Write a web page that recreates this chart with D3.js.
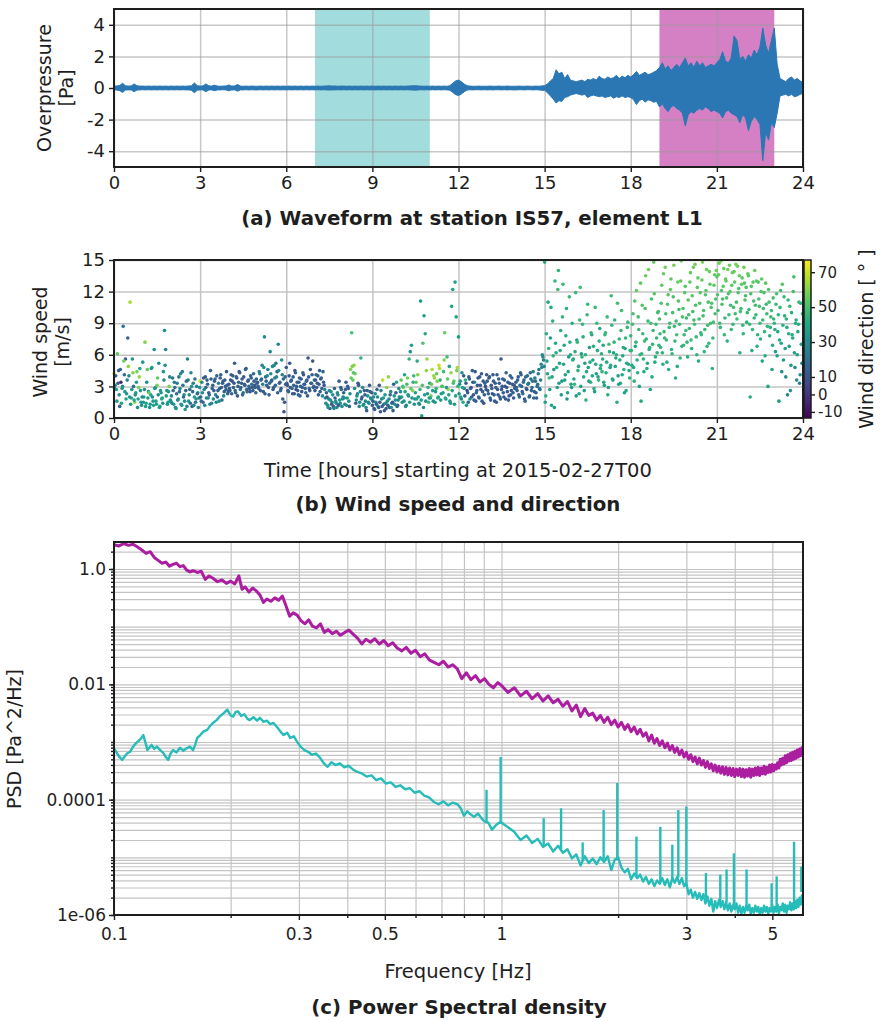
<!DOCTYPE html>
<html>
<head>
<meta charset="utf-8">
<script src="https://cdn.jsdelivr.net/npm/d3@7"></script>
<style>
  body { margin: 0; background: #fff; }
  svg text { font-family: "DejaVu Sans", sans-serif; fill: #1e1e1e; }
</style>
</head>
<body>
<div id="chart"></div>
<script>
// ---------- datos ----------
const hourTicks = [0, 3, 6, 9, 12, 15, 18, 21, 24];
const pressureTicks = [-4, -2, 0, 2, 4];
const speedTicks = [0, 3, 6, 9, 12, 15];
const dirTicks = [-10, 0, 10, 30, 50, 70];
const freqTicks = [0.1, 0.3, 0.5, 1, 3, 5];
const freqTickLabels = ["0.1", "0.3", "0.5", "1", "3", "5"];
const freqMinor = [0.2, 0.4, 0.6, 0.7, 0.8, 0.9, 2, 4];
const psdTicks = [1, 1e-2, 1e-4, 1e-6];
const psdTickLabels = ["1.0", "0.01", "0.0001", "1e-06"];

const quietWindow = [7, 11];   // ventana sin evento (cian)
const eventWindow = [19, 23];  // ventana del evento (magenta)

// envolvente de la forma de onda, una fila por hora, muestras cada 0.1 h
const waveStep = 0.1;
const waveHi = [
  [.12,.13,.16,.30,.14,.12,.13,.26,.14,.12],
  [.12,.11,.12,.11,.12,.11,.12,.11,.12,.11],
  [.12,.11,.12,.11,.12,.11,.13,.14,.32,.15],
  [.12,.13,.26,.14,.12,.18,.12,.11,.12,.13],
  [.19,.12,.13,.22,.12,.11,.12,.11,.12,.11],
  [.11,.12,.11,.12,.11,.12,.11,.12,.11,.12],
  [.11,.12,.11,.12,.11,.12,.11,.12,.11,.12],
  [.11,.12,.11,.12,.13,.14,.12,.13,.11,.12],
  [.12,.11,.12,.11,.12,.11,.12,.11,.12,.11],
  [.12,.11,.12,.11,.12,.11,.12,.11,.12,.11],
  [.12,.11,.12,.13,.14,.15,.13,.12,.11,.12],
  [.11,.12,.11,.12,.11,.12,.11,.15,.30,.45],
  [.50,.40,.25,.14,.12,.11,.11,.12,.11,.11],
  [.11,.12,.11,.11,.12,.11,.11,.12,.11,.11],
  [.11,.12,.11,.11,.12,.11,.11,.12,.11,.13],
  [.15,.25,.45,.60,1.15,.90,1.0,.60,.85,.50],
  [.45,.40,.45,.50,.40,.55,.50,.60,.50,.75],
  [.60,.55,.70,.60,.65,.80,.60,.75,.65,.80],
  [.70,.85,1.05,.80,.90,1.0,.85,.90,1.0,1.1],
  [1.3,1.6,1.2,1.4,1.1,1.3,1.5,1.3,1.6,1.9],
  [1.4,1.6,1.3,1.7,1.4,1.6,1.3,1.4,1.5,1.4],
  [1.6,1.8,2.3,1.7,1.6,1.9,3.3,3.0,1.8,2.0],
  [1.7,2.1,1.9,2.4,2.1,2.6,3.8,2.7,2.2,3.0],
  [3.8,1.5,.60,.50,.40,.60,.70,.50,.60,.45],
  [.35]
];
const waveLo = [
  [-.12,-.13,-.17,-.28,-.13,-.12,-.12,-.24,-.13,-.12],
  [-.11,-.12,-.11,-.12,-.11,-.12,-.11,-.12,-.11,-.12],
  [-.11,-.12,-.11,-.12,-.11,-.12,-.12,-.15,-.30,-.14],
  [-.12,-.12,-.24,-.13,-.12,-.17,-.12,-.12,-.11,-.12],
  [-.18,-.12,-.12,-.20,-.12,-.12,-.11,-.12,-.11,-.12],
  [-.12,-.11,-.12,-.11,-.12,-.11,-.12,-.11,-.12,-.11],
  [-.12,-.11,-.12,-.11,-.12,-.11,-.12,-.11,-.12,-.11],
  [-.12,-.11,-.12,-.11,-.12,-.13,-.12,-.12,-.11,-.12],
  [-.11,-.12,-.11,-.12,-.11,-.12,-.11,-.12,-.11,-.12],
  [-.11,-.12,-.11,-.12,-.11,-.12,-.11,-.12,-.11,-.12],
  [-.11,-.12,-.11,-.12,-.13,-.14,-.12,-.11,-.12,-.11],
  [-.12,-.11,-.12,-.11,-.12,-.11,-.12,-.14,-.28,-.42],
  [-.48,-.38,-.24,-.13,-.11,-.12,-.11,-.11,-.12,-.11],
  [-.12,-.11,-.12,-.11,-.11,-.12,-.11,-.12,-.11,-.12],
  [-.12,-.11,-.11,-.12,-.11,-.11,-.12,-.11,-.12,-.14],
  [-.15,-.30,-.50,-.70,-.95,-.80,-.85,-.60,-.55,-.45],
  [-.40,-.35,-.40,-.45,-.40,-.60,-.50,-.45,-.50,-.55],
  [-.50,-.60,-.55,-.50,-.65,-.55,-.60,-.50,-.60,-.55],
  [-.60,-.75,-1.05,-.80,-.70,-.90,-.75,-.80,-.90,-.85],
  [-1.2,-1.0,-1.3,-1.5,-1.2,-1.1,-1.3,-1.4,-1.6,-2.4],
  [-1.7,-1.5,-1.6,-1.4,-1.3,-1.4,-1.2,-1.3,-1.5,-1.4],
  [-1.5,-1.6,-1.9,-1.5,-1.4,-1.6,-1.7,-1.8,-2.2,-1.7],
  [-1.9,-2.7,-2.1,-1.8,-2.0,-2.3,-4.6,-2.8,-3.3,-2.2],
  [-2.5,-1.6,-.50,-.45,-.40,-.50,-.40,-.55,-.50,-.40],
  [-.35]
];

// viento: dos series de 25 lecturas por hora (velocidad m/s, dirección en grados)
const windPerHour = 25;
const windSpeedA = [
  [4.2,3.1,2.7,6.1,4.5,1.1,3.4,2.8,8.7,4.1,5.6,2.3,7.6,4.0,11.0,1.9,5.6,3.0,1.5,2.4,4.4,1.8,3.9,2.6,1.2],
  [5.3,2.0,7.2,1.4,4.6,2.5,1.0,2.2,4.8,1.6,6.5,2.9,1.3,3.8,5.2,1.1,2.4,1.9,4.4,8.3,6.5,2.6,1.5,3.0,1.7],
  [2.1,3.8,1.3,2.9,0.9,3.3,1.8,2.5,4.2,1.2,3.1,2.2,0.8,3.5,5.6,1.6,2.7,4.3,1.1,3.3,2.0,1.5,3.0,2.4,1.9],
  [3.5,1.6,2.4,3.8,1.2,2.9,3.6,1.9,2.2,4.5,1.4,3.1,2.6,3.7,1.5,2.0,3.3,2.8,4.1,1.7,3.5,2.5,3.0,4.4,2.3],
  [3.2,2.6,4.1,3.5,2.9,5.2,2.4,3.8,3.0,4.4,2.7,3.3,2.2,3.9,3.1,4.7,2.5,3.6,2.8,4.0,3.2,2.6,3.5,2.9,3.7],
  [3.4,2.8,4.2,3.6,5.0,2.5,7.7,3.9,3.1,4.6,2.2,6.3,3.5,4.9,2.9,3.8,5.2,4.4,7.0,3.3,2.6,5.5,1.8,0.6,3.9],
  [4.8,3.1,2.5,5.2,3.5,2.8,3.9,2.3,4.3,3.0,2.6,3.4,2.1,3.7,2.9,4.1,3.2,2.4,3.6,5.7,2.8,4.6,3.3,5.4,3.0],
  [2.6,4.1,3.3,2.2,4.5,3.7,2.8,4.4,3.1,1.9,2.4,1.2,1.8,0.9,2.5,1.5,1.1,2.8,1.6,1.0,2.2,3.5,1.4,2.7,1.8],
  [2.4,1.3,3.4,1.9,2.8,1.1,4.6,8.1,3.6,5.0,4.2,1.7,2.3,3.1,1.5,5.7,2.0,1.2,2.6,1.6,0.7,2.1,1.4,2.5,1.8],
  [1.2,2.0,0.8,1.5,2.7,1.1,3.1,0.6,1.8,3.6,1.3,2.2,0.9,1.6,3.9,1.0,2.5,1.4,0.7,2.1,1.7,3.4,1.2,2.8,1.9],
  [3.6,1.5,2.9,4.1,1.1,3.2,2.2,5.6,6.3,6.9,2.6,4.0,1.8,3.4,5.4,2.0,1.3,11.1,0.2,7.1,9.7,8.0,4.5,2.3,1.5],
  [3.3,2.1,4.6,1.6,3.8,2.5,4.2,1.9,5.0,3.6,2.3,3.0,4.4,8.1,1.8,5.8,2.7,4.9,1.4,10.6,12.2,3.5,12.9,9.6,4.8],
  [7.7,3.2,2.0,4.3,1.5,2.8,3.6,1.2,2.4,3.9,1.8,2.9,4.5,2.2,3.4,1.6,2.6,3.8,1.9,3.1,4.2,2.5,1.4,3.3,2.7],
  [3.5,2.3,3.9,1.7,2.8,4.1,2.2,3.3,1.5,2.7,3.7,2.0,5.6,3.0,2.4,3.6,1.8,2.9,3.4,2.1,4.0,2.6,3.2,1.9,2.8],
  [3.4,2.6,3.9,2.0,4.3,3.0,2.3,3.6,1.6,2.8,4.0,3.3,2.1,3.7,2.9,4.4,2.5,3.5,1.9,3.2,4.6,2.7,5.1,6.0,5.5],
  [14.8,2.1,5.4,11.0,3.8,7.6,1.2,9.2,4.6,13.0,6.2,2.9,14.0,5.2,8.3,3.5,12.7,6.9,4.1,10.4,2.4,5.8,7.2,3.2,9.0],
  [5.6,3.2,11.9,7.4,4.5,2.3,12.4,6.1,8.9,3.9,5.2,1.7,9.8,4.8,6.7,3.4,7.9,5.5,2.8,10.5,4.2,6.4,3.6,8.5,5.0],
  [4.4,6.9,3.1,8.1,5.3,2.2,7.0,4.8,11.6,3.7,6.2,9.3,5.7,1.5,4.0,7.5,3.3,10.2,5.9,4.6,6.6,2.6,8.6,5.1,3.8],
  [7.8,5.0,9.9,3.5,6.8,12.1,4.3,8.4,6.0,1.6,10.7,5.6,7.3,13.5,4.7,9.2,6.5,2.7,11.3,7.0,14.8,5.3,8.9,6.2,10.1],
  [9.4,6.7,12.6,5.1,8.2,14.3,7.4,10.8,4.6,9.0,13.2,6.1,11.5,8.7,3.8,7.9,12.9,10.3,5.7,14.9,9.6,6.9,11.9,8.3,7.2],
  [11.2,8.5,13.8,6.6,10.1,9.3,14.6,7.7,12.4,5.4,10.9,8.1,13.1,9.7,6.3,11.7,14.1,8.8,7.1,12.7,10.5,4.7,9.1,13.6,11.3],
  [13.4,10.2,14.7,8.6,12.1,11.3,14.2,9.5,13.0,7.3,11.8,14.5,10.7,12.6,8.9,13.9,9.9,11.0,14.4,12.3,6.2,10.4,13.3,8.0,12.8],
  [11.6,9.1,13.7,10.3,2.0,12.5,8.4,11.1,14.0,9.8,6.8,12.9,10.6,7.5,13.2,9.3,11.9,5.9,10.8,8.7,12.2,7.8,9.6,4.6,11.4],
  [9.0,6.3,11.8,8.2,1.6,10.5,7.1,12.7,5.5,9.7,3.9,8.6,11.2,6.8,2.6,10.0,7.6,13.4,4.8,9.3,6.0,8.9,3.3,10.9,5.2]
];
const windDirA = [
  [68,30,35,55,12,15,-5,35,22,18,12,35,15,30,65,38,32,20,60,35,58,40,62,35,32],
  [35,38,60,40,55,35,33,38,40,36,30,35,38,55,32,40,34,37,35,30,28,33,38,58,36],
  [30,22,35,18,33,25,38,20,28,35,22,30,36,20,25,34,18,30,15,26,35,20,28,32,22],
  [70,18,30,14,28,16,12,30,14,15,28,13,12,16,30,14,26,12,15,18,12,14,16,13,15],
  [12,15,13,11,14,12,13,16,14,12,25,13,15,12,14,11,16,13,12,15,18,14,12,13,16],
  [15,14,25,13,28,12,30,18,14,26,12,28,15,30,13,27,22,12,28,14,16,32,12,8,15],
  [12,13,15,11,14,16,12,13,11,14,12,15,13,12,14,11,13,16,12,10,14,12,13,11,15],
  [12,14,11,13,12,15,14,16,12,30,14,32,28,12,33,30,13,15,32,30,28,12,30,15,32],
  [14,30,12,35,13,15,60,50,55,62,58,32,28,12,30,45,15,32,13,30,12,35,28,15,30],
  [12,30,14,28,15,32,13,10,30,68,14,35,12,30,62,13,28,15,12,35,30,40,14,30,15],
  [55,32,58,40,30,50,34,45,32,38,60,48,30,55,42,35,30,35,36,52,38,40,62,34,48],
  [40,58,65,32,62,35,55,38,70,45,35,60,48,55,33,50,62,40,35,40,38,55,38,40,65],
  [35,30,38,32,42,28,45,35,12,15,30,12,14,10,35,12,15,13,11,14,12,13,10,14,12],
  [12,14,11,13,12,10,14,12,13,11,14,12,10,13,12,14,11,13,12,10,14,13,12,11,14],
  [13,15,12,18,14,16,20,13,15,12,18,22,14,20,16,25,14,18,12,22,24,20,28,30,27],
  [40,45,38,42,48,36,40,44,35,46,42,39,45,38,43,36,47,41,38,44,40,37,45,39,42],
  [42,46,48,38,44,40,50,36,45,42,38,44,47,40,36,45,41,39,43,48,37,42,46,40,44],
  [45,40,38,47,42,44,50,36,48,43,39,45,41,44,37,46,42,49,40,45,38,43,47,41,44],
  [47,42,50,45,40,55,44,48,46,42,52,45,49,56,43,47,44,40,50,46,55,42,48,45,51],
  [50,46,55,44,48,58,47,52,45,49,54,46,51,48,43,50,56,49,45,57,51,47,53,48,46],
  [52,48,56,45,50,49,57,47,54,44,51,48,55,50,46,52,56,49,47,54,51,45,50,55,52],
  [53,48,57,46,52,50,56,47,54,45,51,57,49,53,46,55,48,50,56,52,44,49,54,46,53],
  [50,45,55,48,42,53,46,50,56,47,44,52,49,45,54,47,51,43,49,46,52,44,48,40,50],
  [45,38,50,42,35,47,40,52,36,44,30,42,46,38,32,44,40,50,28,43,36,42,26,45,30]
];
const windSpeedB = [
  [2.8,4.0,1.6,3.3,2.2,4.6,1.4,3.0,5.4,2.5,1.8,3.6,4.9,2.0,1.3,2.7,4.3,1.7,2.2,3.4,1.0,2.9,4.7,1.5,2.0],
  [1.5,2.7,1.1,3.4,1.9,2.4,1.3,4.7,2.0,1.2,2.8,1.6,3.1,2.2,1.0,2.6,1.8,1.4,3.6,5.0,2.1,1.3,2.5,3.9,1.6],
  [1.4,2.6,3.4,1.0,2.3,1.7,3.9,2.8,1.3,4.4,2.0,1.6,2.6,1.1,3.6,2.2,1.4,3.0,2.5,1.2,3.7,1.8,2.3,1.0,2.9],
  [2.0,3.4,1.5,2.7,3.9,1.9,3.2,2.4,1.3,3.7,2.8,1.8,3.5,2.2,4.0,2.6,1.6,3.8,2.9,3.3,2.1,3.6,2.7,3.1,2.5],
  [2.8,3.6,2.3,4.0,3.3,2.6,3.9,2.1,3.4,4.3,2.9,3.7,2.4,3.2,4.6,2.7,3.5,3.0,2.5,3.8,2.9,4.2,3.1,2.4,3.3],
  [3.0,4.4,2.6,3.7,3.2,4.8,2.3,3.5,4.0,2.9,3.3,4.2,3.6,2.7,5.0,3.1,3.9,2.4,4.5,3.4,2.8,4.1,3.7,1.5,3.2],
  [3.3,2.6,4.0,2.9,3.6,2.3,3.1,4.5,2.7,3.4,2.2,3.8,3.0,2.5,4.3,3.2,2.8,3.5,2.1,3.9,2.6,3.3,4.1,2.9,3.6],
  [3.6,2.9,4.0,3.2,2.5,3.8,2.1,3.4,2.7,1.4,2.0,1.0,2.6,1.7,1.3,2.2,0.9,1.9,1.4,2.4,1.2,1.7,2.9,1.1,2.0],
  [1.9,2.7,1.2,3.0,1.6,2.3,3.8,4.9,4.3,2.8,1.4,2.1,3.3,1.1,2.5,1.8,2.9,1.3,2.2,1.0,2.6,1.5,3.1,1.9,2.4],
  [1.6,0.9,2.3,1.3,2.0,1.0,1.5,2.6,1.1,1.9,0.7,1.4,2.9,1.2,1.8,2.2,1.0,1.5,3.2,1.3,2.4,1.1,1.7,2.0,2.5],
  [2.0,3.0,1.6,2.5,1.2,3.8,2.1,1.5,2.8,1.9,3.4,1.3,2.4,1.8,4.1,1.4,2.7,1.7,3.1,1.0,2.2,1.6,5.6,2.9,1.9],
  [1.9,3.2,2.6,4.0,1.5,2.8,3.5,2.0,4.7,1.7,3.0,2.4,5.5,1.9,2.9,3.7,2.2,1.6,4.3,2.6,3.3,1.3,2.1,4.5,3.0],
  [2.3,3.5,1.8,2.9,4.0,2.1,3.3,2.6,1.5,3.7,2.8,2.0,3.4,1.7,4.4,2.4,3.1,2.0,3.9,2.7,1.6,3.5,2.2,3.0,4.1],
  [2.6,3.8,1.9,3.1,2.3,3.5,1.6,2.9,4.1,2.2,3.3,1.8,2.7,3.7,2.0,3.0,4.3,2.5,1.7,3.3,2.2,3.8,2.4,3.1,2.9],
  [2.9,3.6,2.2,3.1,4.1,2.5,3.4,1.8,3.9,2.7,3.2,2.0,4.3,2.6,3.5,1.9,3.8,2.4,3.0,4.2,2.8,3.6,4.8,5.8,4.9],
  [1.5,8.0,4.2,6.6,2.7,10.5,3.9,5.9,1.0,7.1,4.8,12.2,3.3,6.4,2.2,9.6,5.1,3.6,7.8,1.8,4.4,11.5,6.0,2.9,5.5],
  [3.7,6.3,2.1,7.2,4.9,9.3,3.0,5.8,7.7,2.6,6.0,4.4,10.8,3.5,5.3,8.1,4.0,6.8,2.5,5.1,9.0,3.9,7.3,4.7,6.1],
  [5.6,3.4,7.9,4.3,9.6,2.9,6.3,5.0,8.8,3.6,7.2,4.9,6.0,10.9,3.2,5.5,8.3,4.1,6.7,2.4,7.6,5.2,9.1,4.5,6.4],
  [6.4,8.9,4.8,11.1,7.2,5.5,9.6,3.0,12.8,6.1,8.0,4.4,10.4,7.5,5.2,14.1,6.7,9.0,3.9,8.3,11.8,5.8,7.6,10.0,6.9],
  [8.0,10.9,6.2,13.7,7.6,9.9,5.3,11.7,8.6,12.2,6.5,10.0,14.5,7.3,9.2,4.9,11.1,8.9,13.0,6.8,10.4,7.9,12.5,9.5,5.8],
  [9.8,12.9,7.4,11.6,14.3,8.9,10.7,6.0,13.3,9.4,11.9,7.9,14.8,10.2,8.4,12.1,6.8,11.0,13.9,9.0,10.9,7.6,12.6,9.9,14.0],
  [11.7,13.6,9.0,14.9,10.8,12.5,7.9,13.2,11.4,14.1,9.8,12.0,8.4,13.8,10.5,12.9,14.6,9.4,11.9,13.5,10.1,12.7,8.8,14.3,11.2],
  [12.4,10.0,13.5,8.9,11.8,6.4,12.9,9.5,10.7,13.0,7.9,11.3,9.0,12.0,5.4,10.4,8.2,12.8,9.9,3.0,11.0,8.6,10.2,6.9,9.4],
  [8.4,10.8,5.9,9.8,7.4,12.1,4.4,8.8,11.5,6.6,9.4,2.2,8.0,10.6,5.0,7.9,12.0,6.2,9.0,3.6,8.2,11.0,4.1,7.0,9.9]
];
const windDirB = [
  [32,14,35,12,30,15,38,32,58,35,40,28,62,36,33,34,60,38,32,35,30,58,40,35,30],
  [34,32,38,30,36,55,33,35,30,38,34,36,58,30,35,34,40,33,30,32,36,33,35,28,32],
  [30,20,25,32,18,28,22,30,35,25,20,32,15,28,22,30,20,34,18,28,20,32,16,26,30],
  [15,30,14,28,13,30,16,14,28,12,15,30,13,26,15,14,30,12,15,13,28,14,16,13,12],
  [13,12,15,14,12,16,13,11,14,12,15,13,18,12,14,13,12,15,11,14,12,16,13,15,12],
  [14,28,12,15,26,30,12,14,28,13,16,30,14,12,28,15,27,13,30,14,12,26,15,10,13],
  [12,14,11,13,15,12,14,12,11,13,15,12,14,11,13,12,14,16,12,13,11,14,12,13,15],
  [13,12,15,11,14,12,30,13,28,30,13,32,30,28,14,32,30,13,28,30,12,33,14,30,28],
  [30,14,32,13,30,28,55,60,52,30,15,32,12,30,28,14,30,32,13,28,15,30,12,28,14],
  [14,12,30,15,32,13,12,28,14,35,12,30,60,13,28,15,32,12,14,30,13,15,30,28,32],
  [35,50,32,40,30,58,34,38,55,32,45,30,36,40,60,33,48,35,52,30,38,34,62,45,36],
  [40,55,38,62,35,45,58,40,65,35,50,38,60,42,36,55,40,35,62,38,50,35,40,58,45],
  [32,35,30,38,12,14,12,10,15,13,12,14,11,13,12,15,10,14,12,11,13,12,14,10,12],
  [13,11,14,12,10,13,12,14,11,13,12,14,10,13,12,11,14,13,12,10,14,12,13,11,14],
  [14,16,13,18,15,12,20,14,17,13,22,15,18,14,20,16,24,13,18,22,20,25,28,30,27],
  [38,44,40,46,36,42,39,45,35,41,44,48,37,43,36,46,41,38,44,35,40,47,42,36,43],
  [40,44,37,46,42,48,39,45,43,38,44,41,47,39,43,46,40,44,37,42,47,40,45,42,44],
  [43,40,46,42,48,38,44,41,47,39,45,42,44,49,38,42,47,40,44,37,46,42,48,41,44],
  [45,48,42,52,46,43,50,40,55,45,48,43,51,46,42,57,45,49,41,47,53,44,46,50,45],
  [48,51,45,56,47,50,44,53,48,55,45,50,58,47,49,43,52,48,55,46,51,47,54,49,44],
  [50,54,47,52,57,49,51,45,55,50,53,47,58,51,48,54,46,51,56,49,52,47,55,50,57],
  [52,55,48,58,51,54,46,55,52,57,49,53,47,56,50,54,58,49,52,55,50,54,47,57,51],
  [52,48,54,46,50,42,53,47,49,54,45,51,47,52,40,49,46,53,48,38,50,45,49,43,47],
  [44,48,38,46,42,50,32,44,48,40,45,28,43,47,36,42,50,38,44,30,42,47,32,40,46]
];
const dirDomain = [-13.5, 77];

// PSD, valores leídos como log10(Pa^2/Hz)
// tramo bajo: frecuencias sueltas; tramo alto: bins cada 0.04 Hz desde 1 Hz
const eventFreqLow = [0.100,0.103,0.106,0.109,0.112,0.115,0.118,0.121,0.124,0.127,0.130,0.133,0.136,0.139,0.142,0.145,0.148,0.151,0.154,0.157,
  0.160,0.164,0.168,0.172,0.176,0.180,0.185,0.190,0.195,0.200,0.205,0.210,0.214,0.218,0.223,0.228,0.233,0.238,0.243,0.248,
  0.254,0.260,0.266,0.272,0.278,0.284,0.290,0.297,0.304,0.311,0.318,0.325,0.333,0.341,0.349,0.357,0.366,0.375,0.384,0.394,
  0.404,0.414,0.425,0.436,0.447,0.459,0.471,0.484,0.497,0.510,0.524,0.538,0.553,0.568,0.584,0.600,0.617,0.634,0.652,0.670,
  0.689,0.708,0.728,0.748,0.769,0.790,0.812,0.834,0.857,0.880,0.904,0.928,0.953,0.978];
const eventLogLow = [0.42,0.40,0.44,0.41,0.43,0.38,0.33,0.27,0.30,0.20,0.15,0.10,0.12,0.05,0.08,0.10,0.04,0.06,-0.02,-0.05,
  -0.03,-0.06,-0.04,-0.18,-0.12,-0.16,-0.22,-0.19,-0.25,-0.21,-0.26,-0.12,-0.35,-0.31,-0.40,-0.33,-0.38,-0.45,-0.58,-0.52,
  -0.56,-0.50,-0.54,-0.47,-0.64,-0.82,-0.76,-0.80,-0.90,-0.95,-0.88,-0.99,-1.02,-0.95,-1.10,-1.05,-1.12,-1.08,-1.15,-1.10,
  -1.06,-1.13,-1.20,-1.30,-1.22,-1.27,-1.21,-1.30,-1.24,-1.33,-1.28,-1.37,-1.42,-1.36,-1.46,-1.41,-1.52,-1.47,-1.58,-1.62,
  -1.66,-1.60,-1.70,-1.66,-1.73,-1.90,-1.80,-1.92,-1.85,-1.96,-1.90,-2.00,-2.06,-1.97];
const binStart = 1.0, binStep = 0.04;
const eventLogHigh = [
  -2.02,-2.14,-2.06,-2.20,-2.12,-2.25,-2.16,-2.29,-2.20,-2.32,
  -2.26,-2.38,-2.30,-2.46,-2.36,-2.56,-2.42,-2.54,-2.50,-2.62,
  -2.54,-2.66,-2.57,-2.70,-2.62,-2.74,-2.66,-2.78,-2.70,-2.82,
  -2.74,-2.86,-2.78,-2.90,-2.84,-2.98,-2.88,-3.02,-2.94,-3.06,
  -2.98,-3.10,-3.02,-3.14,-3.06,-3.18,-3.10,-3.22,-3.14,-3.26,
  -3.18,-3.30,-3.22,-3.34,-3.26,-3.38,-3.28,-3.40,-3.32,-3.44,
  -3.34,-3.46,-3.38,-3.50,-3.40,-3.52,-3.42,-3.54,-3.43,-3.56,
  -3.44,-3.57,-3.45,-3.58,-3.46,-3.60,-3.47,-3.58,-3.46,-3.60,
  -3.47,-3.61,-3.48,-3.59,-3.46,-3.61,-3.47,-3.58,-3.45,-3.57,
  -3.44,-3.58,-3.45,-3.55,-3.42,-3.56,-3.44,-3.53,-3.40,-3.52,
  -3.39,-3.50,-3.40,-3.47,-3.36,-3.45,-3.30,-3.40,-3.28,-3.38,
  -3.24,-3.36,-3.22,-3.33,-3.20,-3.32,-3.18,-3.30,-3.16,-3.28,
  -3.14,-3.26,-3.12,-3.24,-3.10,-3.20];

const quietFreqLow = [0.100,0.103,0.105,0.108,0.110,0.112,0.114,0.117,0.119,0.121,0.122,0.125,0.127,0.129,0.132,0.134,0.136,0.138,0.140,0.142,
  0.145,0.148,0.151,0.154,0.157,0.160,0.162,0.164,0.167,0.170,0.174,0.177,0.180,0.184,0.188,0.192,0.196,0.200,0.203,0.206,
  0.209,0.213,0.217,0.221,0.224,0.229,0.234,0.238,0.243,0.248,0.253,0.258,0.264,0.269,0.274,0.280,0.285,0.291,0.297,0.303,
  0.310,0.317,0.324,0.332,0.340,0.348,0.356,0.364,0.373,0.383,0.393,0.403,0.414,0.425,0.437,0.449,0.462,0.475,0.489,0.503,
  0.518,0.533,0.548,0.564,0.580,0.597,0.614,0.632,0.650,0.669,0.688,0.708,0.728,0.749,0.770,0.785,0.800,0.815,0.830,0.850,
  0.870,0.890,0.905,0.925,0.945,0.965,0.985];
const quietLogLow = [-3.11,-3.25,-3.31,-3.20,-3.17,-3.08,-3.02,-2.95,-2.88,-3.05,-3.14,-3.05,-3.12,-3.08,-3.15,-3.19,-3.26,-3.31,-3.20,-3.14,
  -3.18,-3.10,-3.15,-3.11,-3.08,-3.14,-3.05,-2.93,-2.88,-2.82,-2.79,-2.72,-2.67,-2.62,-2.55,-2.50,-2.44,-2.54,-2.56,-2.48,
  -2.47,-2.55,-2.52,-2.60,-2.62,-2.57,-2.63,-2.58,-2.65,-2.63,-2.69,-2.67,-2.75,-2.82,-2.88,-2.84,-2.93,-2.90,-3.00,-3.08,
  -3.14,-3.17,-3.22,-3.20,-3.27,-3.37,-3.43,-3.35,-3.40,-3.37,-3.44,-3.41,-3.48,-3.52,-3.55,-3.60,-3.58,-3.66,-3.63,-3.72,
  -3.70,-3.78,-3.75,-3.82,-3.80,-3.88,-3.85,-3.93,-3.96,-4.04,-4.08,-4.03,-4.10,-4.05,-4.08,-4.15,-4.28,-4.20,-4.25,-4.30,
  -4.24,-4.33,-4.38,-4.40,-4.52,-4.45,-4.40];
const quietLogHigh = [
  -4.40,-4.48,-4.56,-4.70,-4.62,-4.75,-4.68,-4.82,-4.76,-4.90,
  -4.80,-4.92,-4.86,-5.02,-4.95,-5.14,-4.98,-5.10,-5.02,-5.12,
  -5.00,-5.08,-4.98,-5.22,-5.04,-5.00,-5.18,-5.26,-5.20,-5.38,
  -5.28,-5.36,-5.30,-5.42,-5.34,-5.46,-5.38,-5.50,-5.40,-5.46,
  -5.36,-5.48,-5.38,-5.52,-5.36,-5.44,-5.34,-5.46,-5.36,-5.50,
  -5.45,-5.64,-5.56,-5.70,-5.60,-5.72,-5.62,-5.74,-5.64,-5.80,
  -5.68,-5.84,-5.72,-5.94,-5.76,-5.88,-5.74,-5.86,-5.76,-5.90,
  -5.78,-5.92,-5.80,-5.94,-5.82,-5.90,-5.80,-5.96,-5.84,-5.98,
  -5.86,-5.96,-5.84,-5.92,-5.82,-5.98,-5.88,-5.96,-5.84,-5.94,
  -5.86,-5.99,-5.88,-5.96,-5.84,-5.94,-5.86,-5.98,-5.88,-5.94,
  -5.84,-5.96,-5.86,-5.94,-5.82,-5.98,-5.86,-5.92,-5.80,-5.94,
  -5.82,-5.96,-5.84,-5.90,-5.78,-5.92,-5.80,-5.90,-5.76,-5.88,
  -5.74,-5.86,-5.70,-5.82,-5.66,-5.72];
// picos estrechos del espectro cian: frecuencia, cima y base (log10)
const spikeFreq = [0.915,0.995,1.285,1.425,1.62,1.835,1.99,2.23,2.57,2.76,2.86,3.00,3.37,3.67,3.81,3.98,4.29,4.98,5.13,5.69,5.94];
const spikeTop  = [-3.83,-3.26,-4.32,-4.15,-4.74,-4.18,-3.71,-4.64,-4.47,-4.78,-4.18,-4.12,-5.27,-5.30,-5.21,-4.93,-5.21,-5.45,-5.33,-4.73,-5.16];
const spikeBase = [-4.38,-4.42,-4.80,-4.86,-5.05,-5.04,-5.05,-5.32,-5.42,-5.40,-5.35,-5.45,-5.70,-5.80,-5.78,-5.82,-5.88,-5.90,-5.88,-5.85,-5.60];

// ---------- lienzo ----------
const width = 880, height = 1022;
const left = 114, right = 803;
const svg = d3.select("#chart").append("svg")
  .attr("width", width).attr("height", height);

const gridColor = "#c4c4c4";
const inkColor = "#1e1e1e";
const plainNum = d => String(d);   // guion normal como en matplotlib

function styleAxis(g, fontSize) {
  g.select(".domain").remove();
  g.selectAll(".tick line").attr("stroke", inkColor).attr("stroke-width", 1.4);
  g.selectAll(".tick text").style("font-size", fontSize + "px").attr("fill", inkColor);
}

function frame(top, bottom) {
  svg.append("rect")
    .attr("x", left).attr("y", top)
    .attr("width", right - left).attr("height", bottom - top)
    .attr("fill", "none").attr("stroke", inkColor).attr("stroke-width", 2);
}

function label(text, x, y, size, rotate, bold) {
  const t = svg.append("text")
    .attr("text-anchor", "middle").style("font-size", size + "px")
    .text(text);
  if (rotate) t.attr("transform", `translate(${x},${y}) rotate(-90)`);
  else t.attr("x", x).attr("y", y);
  if (bold) t.style("font-weight", "bold");
  return t;
}

// ---------- (a) forma de onda ----------
const aTop = 9, aBottom = 167;
const xA = d3.scaleLinear().domain([0, 24]).range([left, right]);
const yA = d3.scaleLinear().domain([-5, 5]).range([aBottom, aTop]);

svg.append("rect")
  .attr("x", xA(quietWindow[0])).attr("y", aTop)
  .attr("width", xA(quietWindow[1]) - xA(quietWindow[0])).attr("height", aBottom - aTop)
  .attr("fill", "#a2dcdc");
svg.append("rect")
  .attr("x", xA(eventWindow[0])).attr("y", aTop)
  .attr("width", xA(eventWindow[1]) - xA(eventWindow[0])).attr("height", aBottom - aTop)
  .attr("fill", "#d57fc4");

svg.append("g")
  .attr("transform", `translate(0,${aBottom})`)
  .call(d3.axisBottom(xA).tickValues(hourTicks).tickSize(-(aBottom - aTop)).tickFormat(""))
  .call(g => { g.select(".domain").remove(); g.selectAll("line").attr("stroke", "#9a9a9a").attr("stroke-opacity", 0.55).attr("stroke-width", 1.5); });
svg.append("g")
  .attr("transform", `translate(${left},0)`)
  .call(d3.axisLeft(yA).tickValues(pressureTicks).tickSize(-(right - left)).tickFormat(""))
  .call(g => { g.select(".domain").remove(); g.selectAll("line").attr("stroke", "#9a9a9a").attr("stroke-opacity", 0.55).attr("stroke-width", 1.5); });

const hiFlat = waveHi.flat();
const loFlat = waveLo.flat();
const waveData = hiFlat.map((v, i) => ({ t: i * waveStep, hi: v, lo: loFlat[i] }));

svg.append("path")
  .datum(waveData)
  .attr("d", d3.area().x(d => xA(d.t)).y0(d => yA(d.lo)).y1(d => yA(d.hi)))
  .attr("fill", "#2a77b4")
  .attr("stroke", "#2a77b4")
  .attr("stroke-width", 1);

svg.append("g")
  .attr("transform", `translate(0,${aBottom})`)
  .call(d3.axisBottom(xA).tickValues(hourTicks).tickSize(5).tickPadding(4).tickFormat(plainNum))
  .call(g => styleAxis(g, 18));
svg.append("g")
  .attr("transform", `translate(${left},0)`)
  .call(d3.axisLeft(yA).tickValues(pressureTicks).tickSize(5).tickPadding(4).tickFormat(plainNum))
  .call(g => styleAxis(g, 18));
frame(aTop, aBottom);

label("Overpressure", 51, (aTop + aBottom) / 2, 19, true);
label("[Pa]", 73, (aTop + aBottom) / 2, 19, true);
label("(a) Waveform at station IS57, element L1", 472, 225, 19.8, false, true);

// ---------- (b) viento ----------
const bTop = 260, bBottom = 418;
const xB = d3.scaleLinear().domain([0, 24]).range([left, right]);
const yB = d3.scaleLinear().domain([0, 15]).range([bBottom, bTop]);
const cB = d3.scaleSequential(d3.interpolateViridis).domain(dirDomain);

svg.append("g")
  .attr("transform", `translate(0,${bBottom})`)
  .call(d3.axisBottom(xB).tickValues(hourTicks).tickSize(-(bBottom - bTop)).tickFormat(""))
  .call(g => { g.select(".domain").remove(); g.selectAll("line").attr("stroke", gridColor).attr("stroke-width", 1.5); });
svg.append("g")
  .attr("transform", `translate(${left},0)`)
  .call(d3.axisLeft(yB).tickValues(speedTicks).tickSize(-(right - left)).tickFormat(""))
  .call(g => { g.select(".domain").remove(); g.selectAll("line").attr("stroke", gridColor).attr("stroke-width", 1.5); });

const windData = [];
windSpeedA.forEach((row, h) => row.forEach((s, j) => {
  windData.push({ t: h + j / windPerHour, speed: s, dir: windDirA[h][j] });
}));
windSpeedB.forEach((row, h) => row.forEach((s, j) => {
  windData.push({ t: h + (j + 0.5) / windPerHour, speed: s, dir: windDirB[h][j] });
}));

svg.append("g").selectAll("circle")
  .data(windData)
  .join("circle")
  .attr("cx", d => xB(d.t))
  .attr("cy", d => yB(d.speed))
  .attr("r", 1.8)
  .attr("fill", d => cB(d.dir));

svg.append("g")
  .attr("transform", `translate(0,${bBottom})`)
  .call(d3.axisBottom(xB).tickValues(hourTicks).tickSize(5).tickPadding(4).tickFormat(plainNum))
  .call(g => styleAxis(g, 18));
svg.append("g")
  .attr("transform", `translate(${left},0)`)
  .call(d3.axisLeft(yB).tickValues(speedTicks).tickSize(5).tickPadding(4).tickFormat(plainNum))
  .call(g => styleAxis(g, 18));
frame(bTop, bBottom);

// barra de color
const cbX = 804, cbW = 7;
const cbScale = d3.scaleLinear().domain(dirDomain).range([bBottom, bTop]);
const grad = svg.append("defs").append("linearGradient")
  .attr("id", "viridis").attr("x1", 0).attr("y1", 1).attr("x2", 0).attr("y2", 0);
grad.selectAll("stop")
  .data(d3.range(0, 1.0001, 0.1))
  .join("stop")
  .attr("offset", d => d)
  .attr("stop-color", d => d3.interpolateViridis(d));
svg.append("rect")
  .attr("x", cbX).attr("y", bTop).attr("width", cbW).attr("height", bBottom - bTop)
  .attr("fill", "url(#viridis)").attr("stroke", inkColor).attr("stroke-width", 1.5);
svg.append("g")
  .attr("transform", `translate(${cbX + cbW},0)`)
  .call(d3.axisRight(cbScale).tickValues(dirTicks).tickSize(4).tickPadding(3).tickFormat(plainNum))
  .call(g => styleAxis(g, 15));
label("Wind direction [ ° ]", 873, (bTop + bBottom) / 2, 19, true);

label("Wind speed", 47, 342, 19, true);
label("[m/s]", 69, 342, 19, true);
label("Time [hours] starting at 2015-02-27T00", 458, 477, 19.5);
label("(b) Wind speed and direction", 458, 511, 19.8, false, true);

// ---------- (c) PSD ----------
const cTop = 542, cBottom = 915;
const xC = d3.scaleLog().domain([0.1, 6.0]).range([left, right]);
const yC = d3.scaleLog().domain([1e-6, 2.94]).range([cBottom, cTop]);

const psdMinor = [];
[-6, -5, -4, -3, -2, -1, 0].forEach(e => {
  for (let k = 1; k <= 9; k++) {
    const v = k * Math.pow(10, e);
    if (v <= 2.94) psdMinor.push(v);
  }
});

svg.append("g")
  .attr("transform", `translate(0,${cBottom})`)
  .call(d3.axisBottom(xC).tickValues(freqTicks.concat(freqMinor)).tickSize(-(cBottom - cTop)).tickFormat(""))
  .call(g => { g.select(".domain").remove(); g.selectAll("line").attr("stroke", gridColor).attr("stroke-width", 1.2); });
svg.append("g")
  .attr("transform", `translate(${left},0)`)
  .call(d3.axisLeft(yC).tickValues(psdMinor).tickSize(-(right - left)).tickFormat(""))
  .call(g => { g.select(".domain").remove(); g.selectAll("line").attr("stroke", gridColor).attr("stroke-width", 1.2); });

svg.append("clipPath").attr("id", "clipC")
  .append("rect").attr("x", left).attr("y", cTop).attr("width", right - left).attr("height", cBottom - cTop);

const psdLine = d3.line().x(d => xC(d.f)).y(d => yC(Math.pow(10, d.p)));
const eventData = eventFreqLow.map((f, i) => ({ f, p: eventLogLow[i] }))
  .concat(eventLogHigh.map((p, i) => ({ f: binStart + i * binStep, p })));
const quietData = quietFreqLow.map((f, i) => ({ f, p: quietLogLow[i] }))
  .concat(quietLogHigh.map((p, i) => ({ f: binStart + i * binStep, p })));

const cyan = "#26bcb9";
svg.append("path")
  .datum(eventData)
  .attr("clip-path", "url(#clipC)")
  .attr("d", psdLine)
  .attr("fill", "none").attr("stroke", "#ab1e9f").attr("stroke-width", 3)
  .attr("stroke-linejoin", "round");
svg.append("path")
  .datum(quietData)
  .attr("clip-path", "url(#clipC)")
  .attr("d", psdLine)
  .attr("fill", "none").attr("stroke", cyan).attr("stroke-width", 2.4)
  .attr("stroke-linejoin", "round");
svg.append("g").attr("clip-path", "url(#clipC)")
  .selectAll("line")
  .data(spikeFreq)
  .join("line")
  .attr("x1", d => xC(d)).attr("x2", d => xC(d))
  .attr("y1", (d, i) => yC(Math.pow(10, spikeBase[i])))
  .attr("y2", (d, i) => yC(Math.pow(10, spikeTop[i])))
  .attr("stroke", cyan).attr("stroke-width", 2.4);

svg.append("g")
  .attr("transform", `translate(0,${cBottom})`)
  .call(d3.axisBottom(xC).tickValues(freqMinor).tickSize(3).tickFormat(""))
  .call(g => styleAxis(g, 17));
svg.append("g")
  .attr("transform", `translate(0,${cBottom})`)
  .call(d3.axisBottom(xC).tickValues(freqTicks).tickSize(5).tickPadding(8)
    .tickFormat((d, i) => freqTickLabels[i]))
  .call(g => styleAxis(g, 17));
svg.append("g")
  .attr("transform", `translate(${left},0)`)
  .call(d3.axisLeft(yC).tickValues(psdMinor).tickSize(3).tickFormat(""))
  .call(g => styleAxis(g, 17));
svg.append("g")
  .attr("transform", `translate(${left},0)`)
  .call(d3.axisLeft(yC).tickValues(psdTicks).tickSize(5).tickPadding(3)
    .tickFormat((d, i) => psdTickLabels[i]))
  .call(g => styleAxis(g, 17));
frame(cTop, cBottom);

label("PSD [Pa^2/Hz]", 21, 739, 19, true);
label("Frequency [Hz]", 458, 978, 19.5);
label("(c) Power Spectral density", 459, 1014, 19.8, false, true);
</script>
</body>
</html>
